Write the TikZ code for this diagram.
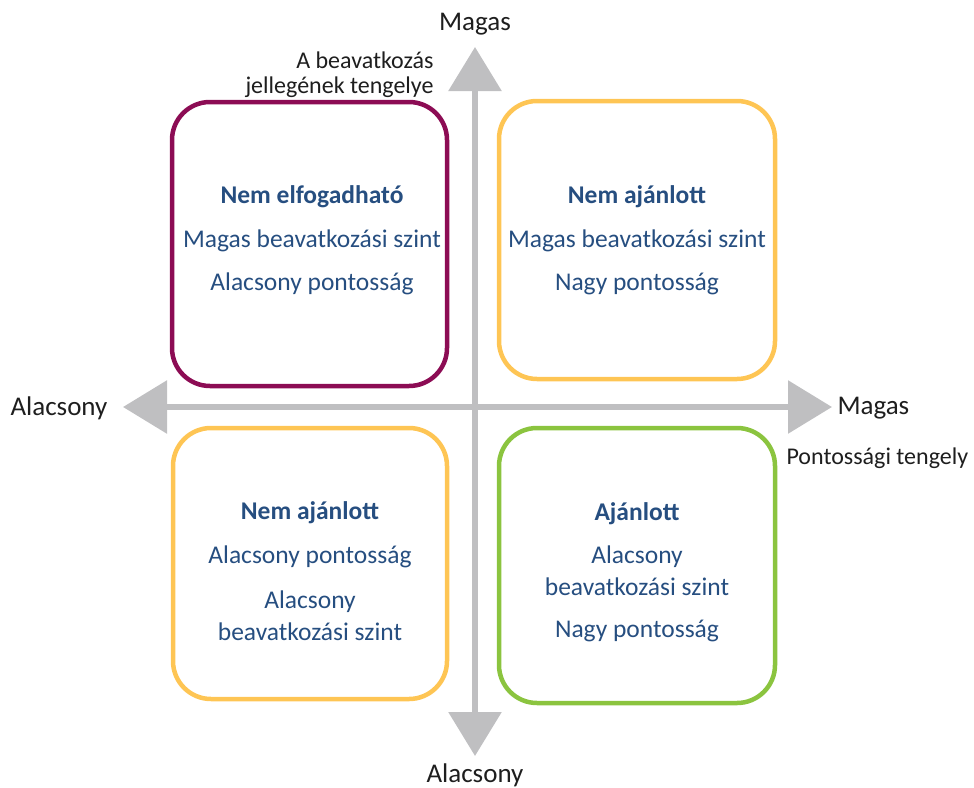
\documentclass[tikz,border=0pt]{standalone}
\usepackage{fontspec}
\setmainfont{Carlito}
\usetikzlibrary{arrows.meta}
\definecolor{axisgray}{RGB}{191,191,193}
\definecolor{plum}{RGB}{140,12,84}
\definecolor{amber}{RGB}{254,197,84}
\definecolor{leaf}{RGB}{139,196,63}
\definecolor{navy}{RGB}{38,78,128}
\definecolor{ink}{RGB}{30,30,30}
\tikzset{
  axis/.style={draw=axisgray, line width=6pt,
    {Triangle[length=44pt,width=52pt,fill=axisgray]}-{Triangle[length=44pt,width=52pt,fill=axisgray]}},
  quad/.style={draw, line width=4.5pt, rounded corners=38pt},
  head/.style={font=\fontsize{25.5}{30}\selectfont\bfseries, text=navy},
  body/.style={font=\fontsize{25.5}{30}\selectfont, text=navy, align=center},
  axlabel/.style={font=\fontsize{27}{32}\selectfont, text=ink},
  axnote/.style={font=\fontsize{24}{28}\selectfont, text=ink},
}
\begin{document}
\begin{tikzpicture}[x=1pt,y=-1pt]
\useasboundingbox (0,0) rectangle (974,787);
% axis end points
\coordinate (xl) at (123,407);
\coordinate (xr) at (832,407);
\coordinate (yt) at (475,47);
\coordinate (yb) at (475,756);
\draw[axis] (xl) -- (xr);
\draw[axis] (yb) -- (yt);

% quadrant frames
\draw[quad, draw=plum]  (172,102) rectangle (447,386);
\draw[quad, draw=amber] (499,101) rectangle (775,379);
\draw[quad, draw=amber] (173,428) rectangle (447,699);
\draw[quad, draw=leaf]  (499,428) rectangle (775,703);

% top-left
\node[head] (tlh) at (312,197) {Nem elfogadható};
\node[body] (tl1) at (312,241) {Magas beavatkozási szint};
\node[body] (tl2) at (312,284) {Alacsony pontosság};
% top-right
\node[head] (trh) at (637,197) {Nem ajánlott};
\node[body] (tr1) at (637,241) {Magas beavatkozási szint};
\node[body] (tr2) at (637,284) {Nagy pontosság};
% bottom-left
\node[head] (blh) at (310,513) {Nem ajánlott};
\node[body] (bl1) at (310,557) {Alacsony pontosság};
\node[body] (bl2) at (310,602) {Alacsony};
\node[body] (bl3) at (310,632) {beavatkozási szint};
% bottom-right
\node[head] (brh) at (637,514) {Ajánlott};
\node[body] (br1) at (637,557) {Alacsony};
\node[body] (br2) at (637,587) {beavatkozási szint};
\node[body] (br3) at (637,631) {Nagy pontosság};

% axis labels
\node[axlabel] (ytop) at (475,24) {Magas};
\node[axlabel] (ybot) at (475,775) {Alacsony};
\node[axlabel, anchor=west] (xleft) at (7,408) {Alacsony};
\node[axlabel, anchor=west] (xright) at (834,408) {Magas};
\node[axnote, anchor=west] (xnote) at (783,458) {Pontossági tengely};
\node[axnote, anchor=east] (ynote1) at (437,60) {A beavatkozás};
\node[axnote, anchor=east] (ynote2) at (437,87) {jellegének tengelye};
\end{tikzpicture}
\end{document}
